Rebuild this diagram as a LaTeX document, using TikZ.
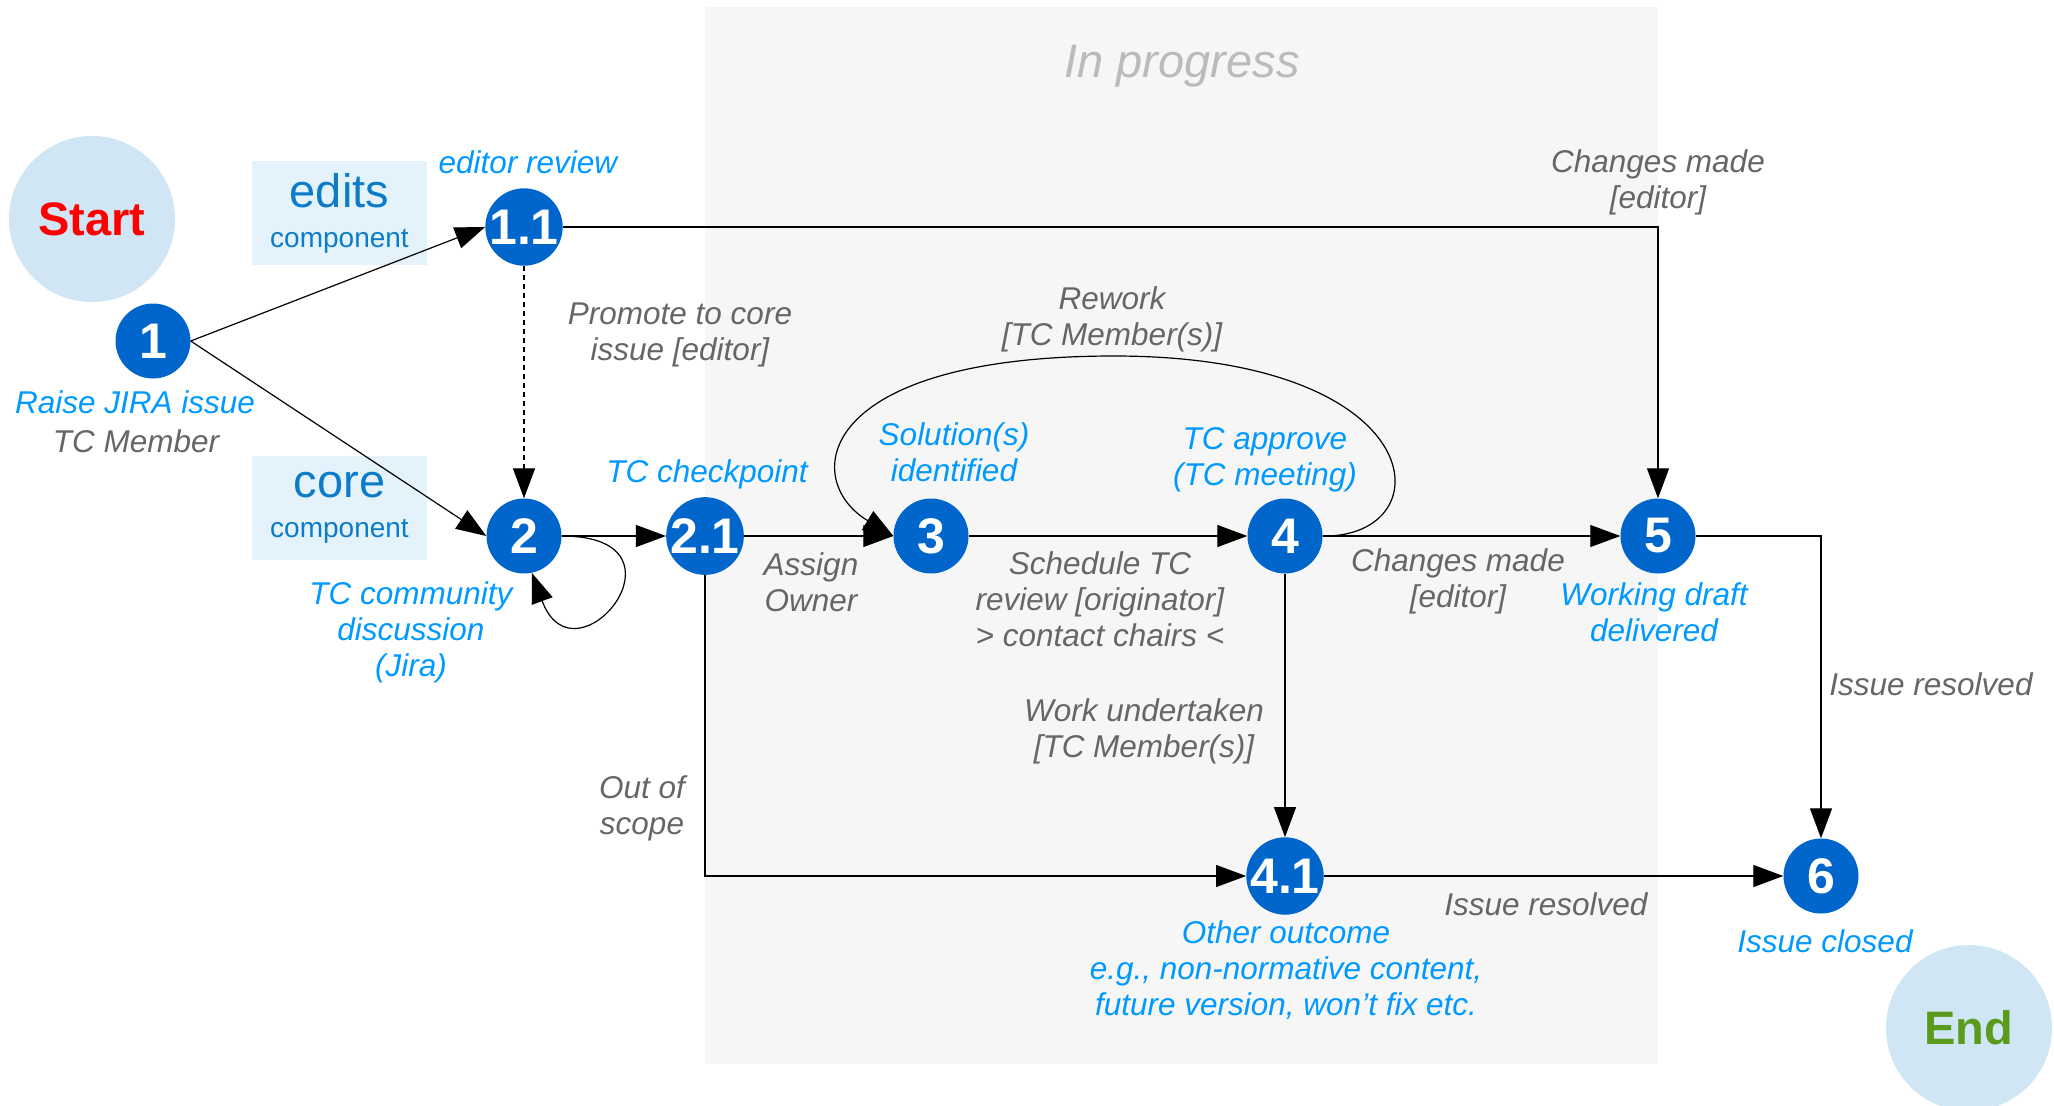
\documentclass[tikz,border=0pt]{standalone}
\usepackage{fontspec}
\setmainfont{Liberation Sans}
\usetikzlibrary{arrows.meta}
\definecolor{nodeblue}{RGB}{0,102,204}
\definecolor{labblue}{RGB}{0,153,255}
\definecolor{labgray}{RGB}{102,102,102}
\definecolor{compblue}{RGB}{12,124,200}
\definecolor{compfill}{RGB}{228,242,252}
\definecolor{termfill}{RGB}{208,230,245}
\definecolor{progfill}{RGB}{246,246,246}
\definecolor{progtext}{RGB}{187,187,187}
\definecolor{endgreen}{RGB}{90,155,30}
\begin{document}
\begin{tikzpicture}[x=1pt,y=-1pt,
  num/.style={circle, fill=nodeblue, minimum size=75pt, inner sep=0pt, text=white,
    font=\fontsize{50}{50}\selectfont\bfseries},
  glab/.style={text=labgray, font=\fontsize{31.5}{36}\selectfont\itshape, align=center, inner sep=0pt},
  blab/.style={glab, text=labblue},
  term/.style={circle, fill=termfill, minimum size=166pt, inner sep=0pt,
    font=\fontsize{47}{47}\selectfont\bfseries},
  compbox/.style={fill=compfill, minimum width=175pt, minimum height=104pt, inner sep=0pt,
    text=compblue, align=center, font=\fontsize{47}{40}\selectfont},
  arr/.style={-{Triangle[length=30pt,width=22pt]}, line width=1.2pt, black},
]
\useasboundingbox (0,0) rectangle (2054,1106);
% In progress area
\fill[progfill] (705,7) rectangle (1658,1064);
\node[text=progtext, font=\fontsize{47}{47}\selectfont\itshape, inner sep=0pt] (prog) at (1182,66) {In progress};

% terminals
\node[term, text=red] (start) at (92,219) {Start};
\node[term, text=endgreen] (end) at (1969,1028) {End};

% component boxes
\node[compbox] (edits) at (339.5,213) {edits\\{\fontsize{28}{30}\selectfont component}};
\node[compbox] (core) at (339.5,507.5) {core\\{\fontsize{28}{30}\selectfont component}};

% numbered nodes
\node[num] (n1) at (153,341) {1};
\node[num] (n11) at (524,227) {1.1};
\node[num] (n2) at (524,536) {2};
\node[num] (n21) at (705,536) {2.1};
\node[num] (n3) at (931,536) {3};
\node[num] (n4) at (1285,536) {4};
\node[num] (n5) at (1658,536) {5};
\node[num] (n41) at (1285,876) {4.1};
\node[num] (n6) at (1821,876) {6};

% labels
\node[blab] (l11) at (528,162) {editor review};
\node[blab] (l1a) at (135,402) {Raise JIRA issue};
\node[glab] (l1b) at (136,441) {TC Member};
\node[glab] (lprom) at (680,335) {Promote to core\\issue [editor]};
\node[blab] (l21) at (707,474) {TC checkpoint};
\node[blab] (l2) at (411,632) {TC community\\discussion\\(Jira)};
\node[blab] (l3) at (954,452) {Solution(s)\\identified};
\node[blab] (l4) at (1265,460) {TC approve\\(TC meeting)};
\node[glab] (lrw) at (1112,319) {Rework\\{[TC Member(s)]}};
\node[glab] (lch1) at (1658,182) {Changes made\\{[editor]}};
\node[glab] (lass) at (811,582) {Assign\\Owner};
\node[glab] (lsch) at (1100,599) {Schedule TC\\review [originator]\\{> contact chairs <}};
\node[glab] (lch2) at (1458,581) {Changes made\\{[editor]}};
\node[blab] (l5) at (1654,612) {Working draft\\delivered};
\node[glab] (lir1) at (1931,684) {Issue resolved};
\node[glab] (lwu) at (1144,731) {Work undertaken\\{[TC Member(s)]}};
\node[glab] (loos) at (642,808) {Out of\\scope};
\node[glab] (lir2) at (1546,904) {Issue resolved};
\node[blab] (l6) at (1825,941) {Issue closed};
\node[blab] (l41) at (1286,970) {Other outcome\\e.g., non-normative content,\\future version, won{\char"0027}t fix etc.};

% connectors
\draw[arr] (n1.east) -- (n11.west);
\draw[arr] (n1.east) -- (n2.west);
\draw[arr, dash pattern=on 5pt off 4pt] (n11.south) -- (n2.north);
\draw[arr] (n11.east) -| (n5.north);
\draw[arr] (n2.east) .. controls (700,536) and (575,690) .. (n2.-78);
\draw[arr] (n2) -- (n21);
\draw[arr] (n21) -- (n3);
\draw[arr] (n3) -- (n4);
\draw[arr] (n4) -- (n5);
\draw[arr] (n4.east) .. controls (1445,538) and (1435,356) .. (1114,356)
  .. controls (815,356) and (800,480) .. (n3.west);
\draw[arr] (n4) -- (n41);
\draw[arr] (n21.south) |- (n41.west);
\draw[arr] (n41) -- (n6);
\draw[arr] (n5.east) -| (n6.north);
\end{tikzpicture}
\end{document}
